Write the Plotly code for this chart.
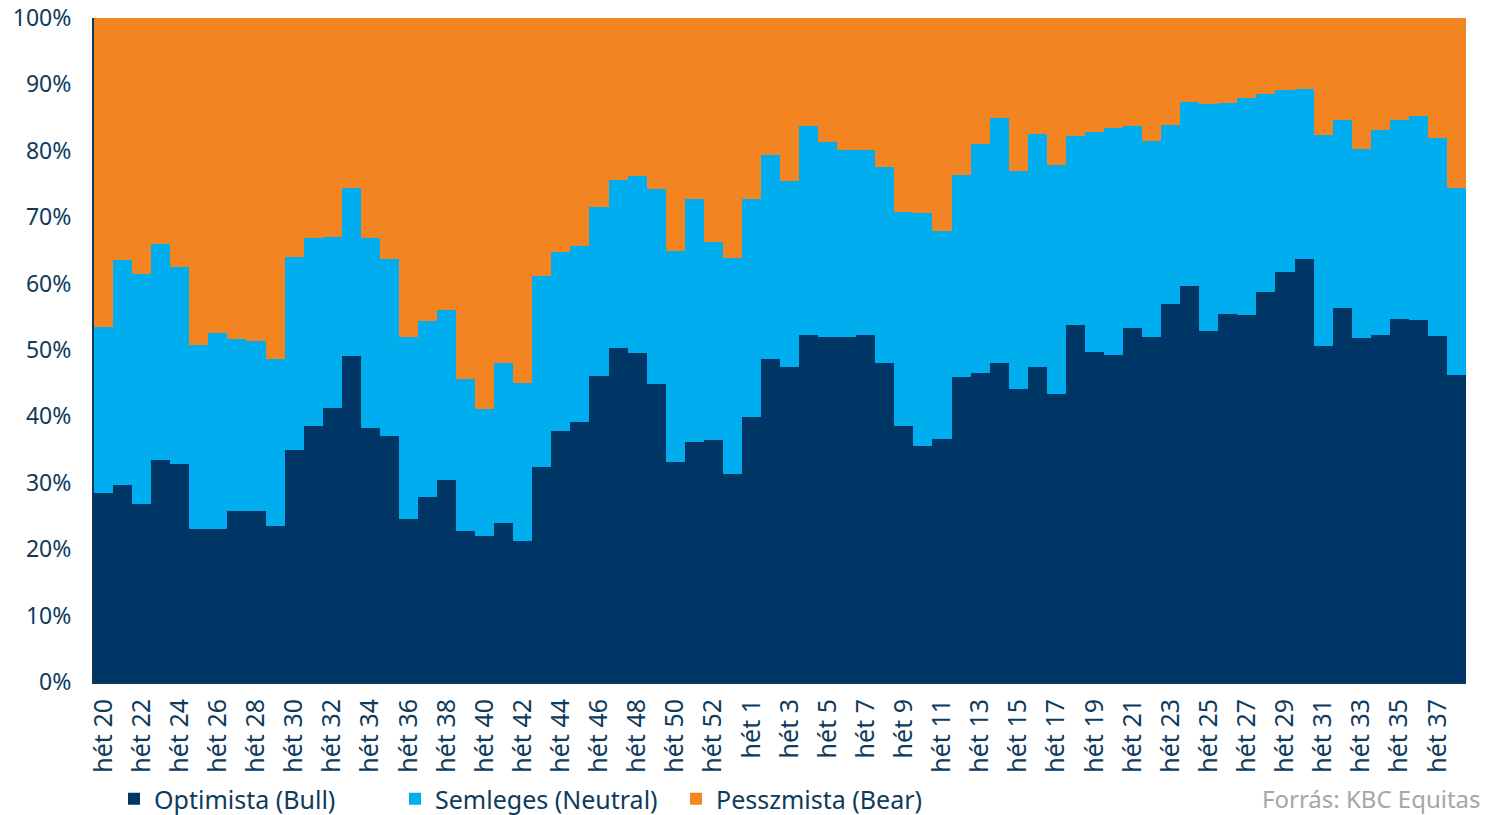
import plotly.graph_objects as go

weeks = [f"hét {w}" for w in range(20, 54)] + [f"hét {w}" for w in range(1, 39)]

bull = [28.4, 29.7, 26.8, 33.5, 32.9, 23.1, 23.0, 25.8, 25.8, 23.5,
        34.9, 38.6, 41.3, 49.1, 38.2, 37.0, 24.6, 27.8, 30.4, 22.8,
        22.0, 23.9, 21.2, 32.4, 37.8, 39.1, 46.1, 50.3, 49.5, 44.9,
        33.2, 36.1, 36.4, 31.4, 39.9, 48.6, 47.4, 52.2, 52.0, 52.0,
        52.3, 48.0, 38.6, 35.5, 36.6, 45.9, 46.6, 48.0, 44.2, 47.4,
        43.4, 53.8, 49.7, 49.2, 53.3, 51.9, 56.9, 59.6, 52.9, 55.4,
        55.2, 58.7, 61.7, 63.7, 50.6, 56.3, 51.8, 52.3, 54.6, 54.5,
        52.1, 46.2]
neutral = [25.0, 33.8, 34.7, 32.5, 29.6, 27.7, 29.5, 25.9, 25.5, 25.1,
           29.1, 28.3, 25.7, 25.3, 28.6, 26.7, 27.3, 26.6, 25.7, 22.9,
           19.1, 24.1, 23.8, 28.7, 27.0, 26.5, 25.5, 25.3, 26.7, 29.3,
           31.7, 36.6, 29.9, 32.5, 32.8, 30.7, 28.1, 31.5, 29.3, 28.1,
           27.8, 29.5, 32.2, 35.1, 31.3, 30.5, 34.4, 37.0, 32.8, 35.2,
           34.4, 28.4, 33.1, 34.3, 30.4, 29.6, 27.0, 27.8, 34.1, 31.8,
           32.8, 29.9, 27.5, 25.6, 31.8, 28.4, 28.5, 30.9, 30.1, 30.8,
           29.9, 28.2]
bear = [46.6, 36.5, 38.5, 34.0, 37.5, 49.2, 47.5, 48.3, 48.7, 51.4,
        36.0, 33.1, 33.0, 25.6, 33.2, 36.3, 48.1, 45.6, 43.9, 54.3,
        58.9, 52.0, 55.0, 38.9, 35.2, 34.4, 28.4, 24.4, 23.8, 25.8,
        35.1, 27.3, 33.7, 36.1, 27.3, 20.7, 24.5, 16.3, 18.7, 19.9,
        19.9, 22.5, 29.2, 29.4, 32.1, 23.6, 19.0, 15.0, 23.0, 17.4,
        22.2, 17.8, 17.2, 16.5, 16.3, 18.5, 16.1, 12.6, 13.0, 12.8,
        12.0, 11.4, 10.8, 10.7, 17.6, 15.3, 19.7, 16.8, 15.3, 14.7,
        18.0, 25.6]

series_names = ["Optimista (Bull)", "Semleges (Neutral)", "Pesszmista (Bear)"]
colors = ["#003665", "#00ADEE", "#F38422"]
y_ticks = list(range(0, 101, 10))

x = list(range(len(weeks)))
text_color = "#0E3B5C"
font_family = "Noto Sans"

W, H = 1485, 815
L, R, T, B = 94, 19, 18, 133
PW, PH = W - L - R, H - T - B

fig = go.Figure()
for name, vals, col in zip(series_names, [bull, neutral, bear], colors):
    fig.add_trace(go.Bar(x=x, y=vals, name=name, marker=dict(color=col, line=dict(width=0))))

fig.update_layout(
    barmode="stack",
    barnorm="percent",
    bargap=0,
    width=W, height=H,
    margin=dict(l=L, r=R, t=T, b=B, autoexpand=False),
    plot_bgcolor="white", paper_bgcolor="white",
    font=dict(family=font_family, size=22, color=text_color),
    showlegend=True,
    legend=dict(orientation="h", xref="container", yref="container",
                x=114 / W, xanchor="left", y=(H - 799) / H, yanchor="middle",
                font=dict(size=25, color=text_color), traceorder="normal",
                entrywidth=236, entrywidthmode="pixels",
                bgcolor="rgba(0,0,0,0)"),
)
fig.update_xaxes(
    range=[-0.5, len(weeks) - 0.5],
    tickvals=x[::2], ticktext=weeks[::2], tickangle=-90,
    showline=True, linecolor="#0E3B5C", linewidth=2,
    showgrid=False, ticks="", ticklabelstandoff=5, automargin=False,
    tickfont=dict(size=25, color=text_color),
)
fig.update_yaxes(
    range=[0, 100], tickvals=y_ticks, ticktext=[f"{v}%" for v in y_ticks],
    showline=True, linecolor="#0E3B5C", linewidth=2,
    showgrid=False, ticks="", ticklabelstandoff=16, automargin=False,
    tickfont=dict(size=23, color=text_color), zeroline=False,
)
fig.add_annotation(text="Forrás: KBC Equitas", xref="paper", yref="paper",
                   x=(1482 - L) / PW, xanchor="right", y=(682 - 798) / PH, yanchor="middle",
                   showarrow=False, borderpad=0, font=dict(size=24, color="#A6A6A6"))

fig.write_html("out.html", config={"displayModeBar": False},
               post_script="document.body.style.margin='0';")
